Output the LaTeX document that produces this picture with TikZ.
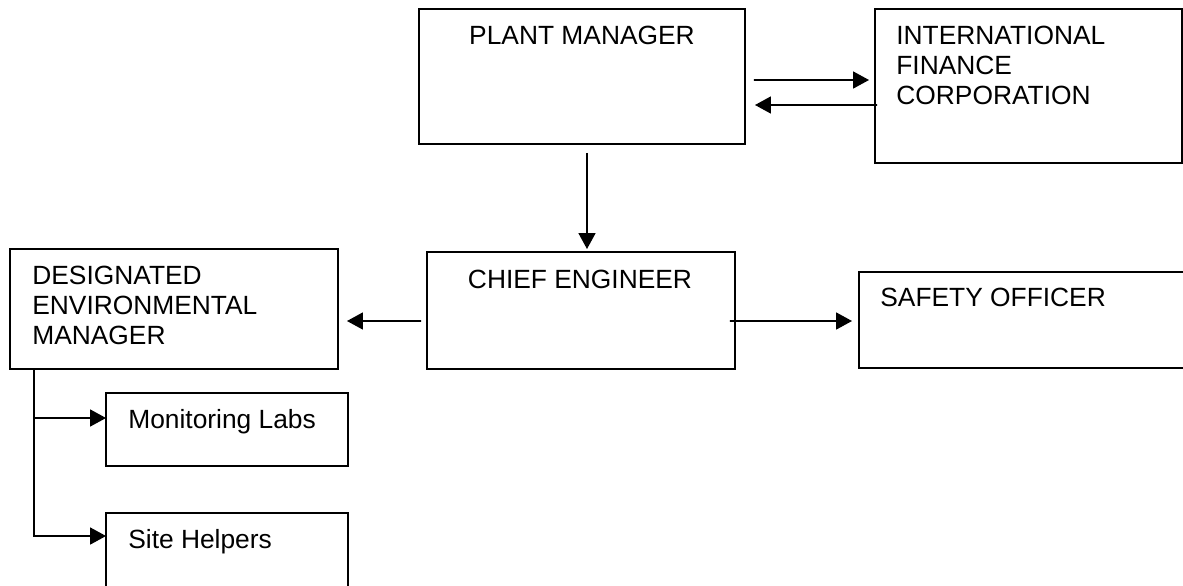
\documentclass[tikz,border=0pt]{standalone}
\usepackage{fontspec}
\setmainfont{Liberation Sans}
\usetikzlibrary{arrows.meta,positioning,calc}

\tikzset{
  unitbox/.style={draw, line width=1.1pt, inner sep=0pt, outer sep=0pt},
  lbl/.style={inner sep=0pt, font=\fontsize{15}{17.07}\selectfont},
  arr/.style={line width=1pt, -{Triangle[length=0.32cm, width=0.34cm]}}
}

\begin{document}
\begin{tikzpicture}[x=0.02cm, y=-0.02cm]
        \useasboundingbox (0,0) rectangle (1183,585);

        % Boxes
        \node[unitbox, minimum width=6.52cm, minimum height=2.70cm] (pm) at (582,76.5) {};
        \node[unitbox, minimum width=6.14cm, minimum height=3.08cm] (ifc) at (1028.5,86) {};
        \node[unitbox, minimum width=6.16cm, minimum height=2.34cm] (ce) at (581,310.5) {};
        \node[unitbox, minimum width=6.82cm, minimum height=1.92cm] (so) at (1029.5,320) {};
        \node[unitbox, minimum width=6.56cm, minimum height=2.40cm] (dem) at (174,309) {};
        \node[unitbox, minimum width=4.84cm, minimum height=1.46cm] (ml) at (227,429.5) {};
        \node[unitbox, minimum width=4.84cm, minimum height=1.94cm] (sh) at (227,561.5) {};

        % Labels
        \node[lbl, anchor=base] (pmtext) at (582,44) {PLANT MANAGER};
        \node[lbl, anchor=north west, align=left] (ifctext) at (896,26) {INTERNATIONAL\\FINANCE\\CORPORATION};
        \node[lbl, anchor=base] (cetext) at (580,288) {CHIEF ENGINEER};
        \node[lbl, anchor=base west] (sotext) at (880,306) {SAFETY OFFICER};
        \node[lbl, anchor=north west, align=left] (demtext) at (32,266) {DESIGNATED\\ENVIRONMENTAL\\MANAGER};
        \node[lbl, anchor=base west] (mltext) at (128,428) {Monitoring Labs};
        \node[lbl, anchor=base west] (shtext) at (128,548) {Site Helpers};

        % Plant manager <-> IFC
        \draw[arr] ($(pm.east)+(9,3.5)$) -- ($(ifc.west)+(-6,-6)$);
        \draw[arr] ($(ifc.west)+(2,19)$) -- ($(pm.east)+(10,28.5)$);

        % Plant manager -> chief engineer
        \draw[arr] ($(pm.south)+(5,9)$) -- ($(ce.north)+(6,-3)$);

        % Chief engineer -> sides
        \draw[arr] ($(ce.west)+(-6,10.5)$) -- ($(dem.east)+(9,12)$);
        \draw[arr] ($(ce.east)+(-5,10.5)$) -- ($(so.west)+(-7,1)$);

        % Environmental manager branches
        \coordinate (dbr) at ($(dem.south west)+(24,0)$);
        \draw[arr] (dbr) |- ($(sh.north west)+(0,23)$);
        \draw[arr] ($(dbr)+(-1,49)$) -- ($(ml.north west)+(0,25)$);
\end{tikzpicture}
\end{document}
